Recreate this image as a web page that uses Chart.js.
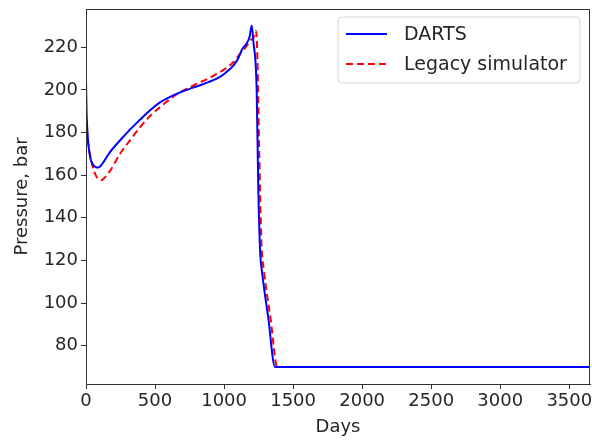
<!DOCTYPE html>
<html>
<head>
<meta charset="utf-8">
<script src="https://cdn.jsdelivr.net/npm/chart.js@4/dist/chart.umd.min.js"></script>
<style>
  html, body { margin: 0; padding: 0; background: #fff; }
  #wrap { width: 592px; height: 442px; position: relative; }
</style>
</head>
<body>
<div id="wrap"><canvas id="chart"></canvas></div>
<script>
// well pressure history, two simulators
const dartsDays = [0, 4, 10, 18, 30, 50, 70, 88, 105, 130, 170, 246, 320, 391, 460, 536, 610, 681, 750, 826, 890, 947, 1010, 1067, 1100, 1130, 1160, 1185, 1200, 1212, 1236, 1248, 1262, 1274, 1320, 1369, 3650];
const dartsPressure = [205, 190, 181, 174, 168.5, 165, 163.8, 163.6, 164.3, 166.5, 170.5, 176.3, 181.5, 186, 190.3, 194.2, 196.8, 198.9, 200.5, 202.2, 203.8, 205.3, 208, 211.4, 214.5, 219, 221.5, 225, 230.2, 223, 200, 153, 123, 115, 93, 70, 70];

const legacyDays = [0, 8, 18, 30, 48, 70, 90, 110, 130, 174, 246, 320, 391, 460, 536, 610, 681, 750, 826, 890, 947, 1010, 1067, 1110, 1150, 1188, 1215, 1231, 1240, 1253, 1270, 1289, 1337, 1385, 3650];
const legacyPressure = [187, 179, 174, 169.5, 164, 160, 158.2, 157.6, 158.5, 162, 170, 176.5, 182.5, 187.5, 191.9, 195.8, 198.9, 201.2, 203.6, 205.5, 207.5, 210, 213, 216.5, 219.5, 223, 225, 227.8, 218, 176, 129, 115, 92.5, 70, 70];

const dayTicks = [0, 500, 1000, 1500, 2000, 2500, 3000, 3500];
const pressureTicks = [80, 100, 120, 140, 160, 180, 200, 220];

const FONT = "'DejaVu Sans', sans-serif";
const INK = "#262626";

const toPoints = (xs, ys) => xs.map((x, i) => ({ x: x, y: ys[i] }));

// frame on all four sides plus a boxed legend in the top right corner
const frameAndLegend = {
  id: "frameAndLegend",
  afterDraw(chart) {
    const { ctx, chartArea: a } = chart;
    ctx.save();
    ctx.strokeStyle = "#333";
    ctx.lineWidth = 1;
    ctx.strokeRect(a.left + 0.5, a.top + 0.5, a.right - a.left - 1, a.bottom - a.top);

    const boxW = 242, boxH = 66;
    const bx = a.right - 10 - boxW, by = a.top + 8;
    ctx.beginPath();
    ctx.roundRect(bx, by, boxW, boxH, 4);
    ctx.fillStyle = "rgba(255,255,255,0.85)";
    ctx.fill();
    ctx.strokeStyle = "#d6d6d6";
    ctx.stroke();

    chart.data.datasets.forEach((ds, i) => {
      const y = by + 17 + i * 30;
      ctx.beginPath();
      ctx.setLineDash(ds.borderDash || []);
      ctx.strokeStyle = ds.borderColor;
      ctx.lineWidth = ds.borderWidth;
      ctx.moveTo(bx + 8, y);
      ctx.lineTo(bx + 49, y);
      ctx.stroke();
      ctx.setLineDash([]);
      ctx.fillStyle = INK;
      ctx.font = "19px " + FONT;
      ctx.textBaseline = "middle";
      ctx.fillText(ds.label, bx + 66, y + 1);
    });
    ctx.restore();
  }
};

new Chart(document.getElementById("chart"), {
  type: "scatter",
  data: {
    datasets: [
      {
        label: "DARTS",
        data: toPoints(dartsDays, dartsPressure),
        showLine: true,
        borderColor: "#0000ff",
        borderWidth: 2,
        pointRadius: 0,
        cubicInterpolationMode: "monotone"
      },
      {
        label: "Legacy simulator",
        data: toPoints(legacyDays, legacyPressure),
        showLine: true,
        borderColor: "#ff0000",
        borderWidth: 2,
        borderDash: [7, 4],
        pointRadius: 0,
        cubicInterpolationMode: "monotone"
      }
    ]
  },
  options: {
    responsive: true,
    maintainAspectRatio: false,
    animation: false,
    layout: { padding: { top: 9, right: 2, left: 0, bottom: 0 } },
    plugins: { legend: { display: false }, tooltip: { enabled: false } },
    scales: {
      x: {
        type: "linear",
        min: 0,
        max: 3650,
        afterBuildTicks: (s) => { s.ticks = dayTicks.map((v) => ({ value: v })); },
        afterFit: (s) => { s.height = 58; s.paddingLeft = 0; s.paddingRight = 0; },
        grid: { drawOnChartArea: false, drawTicks: true, tickLength: 5, color: "#333" },
        border: { color: "#333" },
        ticks: { color: INK, font: { family: FONT, size: 18 }, padding: 2, maxRotation: 0, callback: (v) => String(v) },
        title: { display: true, text: "Days", color: INK, font: { family: FONT, size: 18 }, padding: { top: 0 } }
      },
      y: {
        min: 62,
        max: 238,
        afterBuildTicks: (s) => { s.ticks = pressureTicks.map((v) => ({ value: v })); },
        afterFit: (s) => { s.width = 86; s.paddingTop = 0; s.paddingBottom = 0; },
        grid: { drawOnChartArea: false, drawTicks: true, tickLength: 5, color: "#333" },
        border: { color: "#333" },
        ticks: { color: INK, font: { family: FONT, size: 18 }, padding: 3, callback: (v) => String(v) },
        title: { display: true, text: "Pressure, bar", color: INK, font: { family: FONT, size: 18 }, padding: { bottom: 0, top: 12 } }
      }
    }
  },
  plugins: [frameAndLegend]
});
</script>
</body>
</html>
